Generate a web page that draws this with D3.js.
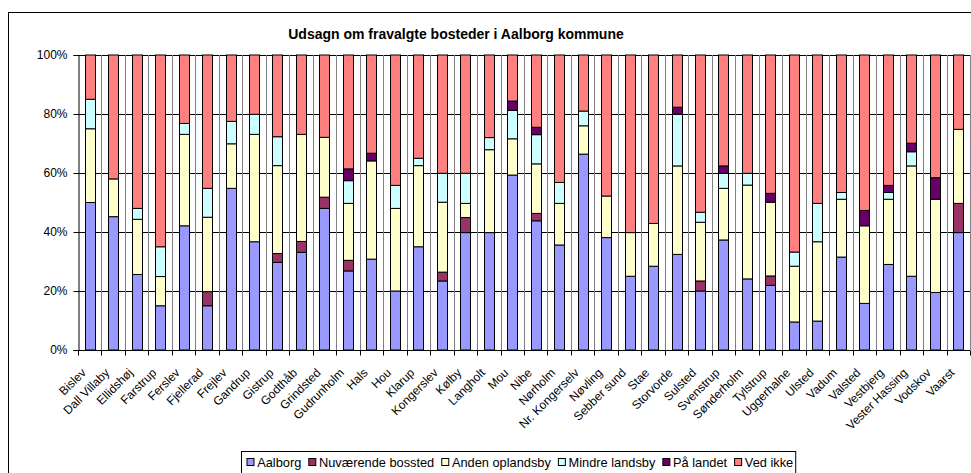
<!DOCTYPE html>
<html lang="da">
<head>
  <meta charset="UTF-8">
  <title>Udsagn om fravalgte bosteder</title>
  <script src="https://cdn.jsdelivr.net/npm/d3@7"></script>
  <style>
    body { margin: 0; background: #fff; }
    svg { display: block; font-family: "Liberation Sans", Arial, sans-serif; }
    .axis text { font-size: 12px; fill: #000; }
  </style>
</head>
<body>
  <svg width="971" height="473"></svg>
  <script>
    var categories = ["Bislev", "Dall Villaby", "Ellidshøj", "Farstrup", "Ferslev", "Fjellerad", "Frejlev",
      "Gandrup", "Gistrup", "Godthåb", "Grindsted", "Gudrunholm", "Hals", "Hou", "Klarup", "Kongerslev",
      "Kølby", "Langholt", "Mou", "Nibe", "Nørholm", "Nr. Kongerselv", "Nøvling", "Sebber sund", "Stae",
      "Storvorde", "Sulsted", "Svenstrup", "Sønderholm", "Tylstrup", "Uggerhalne", "Ulsted", "Vadum",
      "Valsted", "Vestbjerg", "Vester Hassing", "Vodskov", "Vaarst"];

    var seriesNames = ["Aalborg", "Nuværende bossted", "Anden oplandsby", "Mindre landsby", "På landet", "Ved ikke"];

    // procent pr. by (aflæst)
    var aalborg = [50, 45.2, 25.6, 15, 42.1, 15, 54.8, 36.7, 29.7, 33.1, 48, 26.8, 30.8, 20, 35, 23.4, 39.8, 39.8,
      59.3, 43.8, 35.6, 66.4, 38.1, 25, 28.4, 32.4, 20, 37.3, 24.1, 21.9, 9.5, 9.8, 31.5, 15.8, 29, 25, 19.5, 39.8];
    var nuvaerende = [0, 0, 0, 0, 0, 4.8, 0, 0, 3, 3.7, 3.8, 3.6, 0, 0, 0, 3, 5.1, 0,
      0, 2.5, 0, 0, 0, 0, 0, 0, 3.4, 0, 0, 3.2, 0, 0, 0, 0, 0, 0, 0, 9.9];
    var andenOplandsby = [25, 12.8, 18.7, 9.9, 31, 25.2, 15.1, 36.4, 29.8, 36.3, 20.3, 19.3, 33.3, 28, 27.5, 23.7, 4.8, 28.1,
      12.3, 16.8, 14.1, 9.6, 14.1, 14.8, 14.5, 30, 19.9, 17.5, 31.8, 25, 18.9, 26.9, 19.6, 26.3, 22.1, 37.4, 31.6, 25.1];
    var mindreLandsby = [10, 0, 3.7, 10.1, 3.7, 9.8, 7.6, 6.8, 9.8, 0, 0, 7.7, 0, 7.8, 2.5, 9.8, 10.2, 4.1,
      9.6, 9.9, 7.1, 5, 0, 0, 0, 17.5, 3.4, 5.1, 4, 0, 4.8, 13, 2.3, 0, 2.3, 4.8, 0, 0];
    var paaLandet = [0, 0, 0, 0, 0, 0, 0, 0, 0, 0, 0, 4, 2.6, 0, 0, 0, 0, 0,
      3.2, 2.5, 0, 0, 0, 0, 0, 2.4, 0, 2.5, 0, 3, 0, 0, 0, 5.2, 2.4, 2.9, 7.3, 0];
    var vedIkke = [15, 42, 52, 65, 23.2, 45.2, 22.5, 20.1, 27.7, 26.9, 27.9, 38.6, 33.3, 44.2, 35, 40.1, 40.1, 28,
      15.6, 24.5, 43.2, 19, 47.8, 60.2, 57.1, 17.7, 53.3, 37.6, 40.1, 46.9, 66.8, 50.3, 46.6, 52.7, 44.2, 29.9, 41.6, 25.2];

    var yTicks = [0, 0.2, 0.4, 0.6, 0.8, 1];
    var colors = ["#9999FF", "#993366", "#FFFFCC", "#CCFFFF", "#660066", "#FF8080"];

    var seriesValues = [aalborg, nuvaerende, andenOplandsby, mindreLandsby, paaLandet, vedIkke];
    var table = categories.map(function(c, i) {
      var row = {name: c};
      seriesNames.forEach(function(s, j) { row[s] = seriesValues[j][i]; });
      return row;
    });

    var svg = d3.select("svg"),
        margin = {top: 55, right: 1, bottom: 123, left: 78},
        width = +svg.attr("width") - margin.left - margin.right,
        height = +svg.attr("height") - margin.top - margin.bottom;

    // ramme om hele diagrammet
    svg.append("rect")
        .attr("x", 8.5).attr("y", 12.5)
        .attr("width", 980).attr("height", 480)
        .attr("fill", "none").attr("stroke", "#000").attr("stroke-width", 1);

    svg.append("text")
        .attr("x", 456).attr("y", 39)
        .attr("text-anchor", "middle")
        .style("font-size", "14px").style("font-weight", "bold")
        .text("Udsagn om fravalgte bosteder i Aalborg kommune");

    var g = svg.append("g")
        .attr("transform", "translate(" + margin.left + "," + margin.top + ")");

    var x = d3.scaleBand().domain(categories).range([0, width]).paddingInner(0.57).paddingOuter(0.285);
    var xEdge = d3.scaleLinear().domain([0, categories.length]).range([0, width]);
    var y = d3.scaleLinear().domain([0, 1]).range([height, 0]);

    // vandrette gitterlinjer
    g.append("g").selectAll("line")
      .data(yTicks)
      .enter().append("line")
        .attr("x1", 0).attr("x2", width)
        .attr("y1", function(d) { return Math.round(y(d)) + 0.5; })
        .attr("y2", function(d) { return Math.round(y(d)) + 0.5; })
        .attr("stroke", "#000");

    // lodrette gitterlinjer mellem kategorier
    g.append("g").selectAll("line")
      .data(d3.range(1, categories.length + 1))
      .enter().append("line")
        .attr("x1", function(d) { return Math.round(xEdge(d)) + 0.5; })
        .attr("x2", function(d) { return Math.round(xEdge(d)) + 0.5; })
        .attr("y1", 0).attr("y2", height)
        .attr("stroke", "#808080");

    var stack = d3.stack().keys(seriesNames).offset(d3.stackOffsetExpand);
    var layers = stack(table);

    g.selectAll(".layer")
      .data(layers)
      .enter().append("g")
        .attr("class", "layer")
        .attr("fill", function(d, i) { return colors[i]; })
      .selectAll("rect")
      .data(function(d) { return d.filter(function(p) { return p[1] - p[0] > 0; }); })
      .enter().append("rect")
        .attr("x", function(d) { return Math.round(x(d.data.name)) + 0.5; })
        .attr("width", Math.round(x.bandwidth()))
        .attr("y", function(d) { return y(d[1]); })
        .attr("height", function(d) { return y(d[0]) - y(d[1]); })
        .attr("stroke", "#000")
        .attr("stroke-width", 1);

    // y-akse
    g.append("g")
        .attr("class", "axis axis--y")
        .attr("transform", "translate(0.5,0)")
        .call(d3.axisLeft(y).tickValues(yTicks).tickSize(5).tickPadding(6).tickFormat(d3.format(".0%")))
        .call(function(a) { a.selectAll("line, path").attr("stroke", "#000"); });

    // x-akse
    var xAxis = g.append("g")
        .attr("class", "axis axis--x")
        .attr("transform", "translate(0," + (height + 0.5) + ")");
    xAxis.append("line").attr("x1", 0).attr("x2", width).attr("stroke", "#000");
    xAxis.selectAll(".tick")
      .data(d3.range(0, categories.length + 1))
      .enter().append("line")
        .attr("x1", function(d) { return Math.round(xEdge(d)) + 0.5; })
        .attr("x2", function(d) { return Math.round(xEdge(d)) + 0.5; })
        .attr("y1", 0).attr("y2", 5)
        .attr("stroke", "#000");
    xAxis.selectAll("text")
      .data(categories)
      .enter().append("text")
        .attr("transform", function(d) {
          return "translate(" + (x(d) + x.bandwidth() / 2 - 6) + ",20) rotate(-45)";
        })
        .attr("text-anchor", "end")
        .attr("dy", "0.35em")
        .text(function(d) { return d; });

    // forklaring
    var legend = svg.append("g").attr("transform", "translate(241,451)");
    var legendBox = legend.append("rect")
        .attr("x", 0.5).attr("y", 0.5).attr("height", 30)
        .attr("fill", "#fff").attr("stroke", "#000");
    var lx = 5.5;
    seriesNames.forEach(function(s, i) {
      var item = legend.append("g").attr("transform", "translate(" + lx + ",0)");
      item.append("rect")
        .attr("x", 0.5).attr("y", 7.5).attr("width", 7).attr("height", 7)
        .attr("fill", colors[i]).attr("stroke", "#000");
      var t = item.append("text")
        .attr("x", 10.7).attr("y", 15.5)
        .style("font-size", "12.8px")
        .text(s);
      lx += 10.7 + t.node().getComputedTextLength() + 7;
    });
    legendBox.attr("width", lx - 5);
  </script>
</body>
</html>
